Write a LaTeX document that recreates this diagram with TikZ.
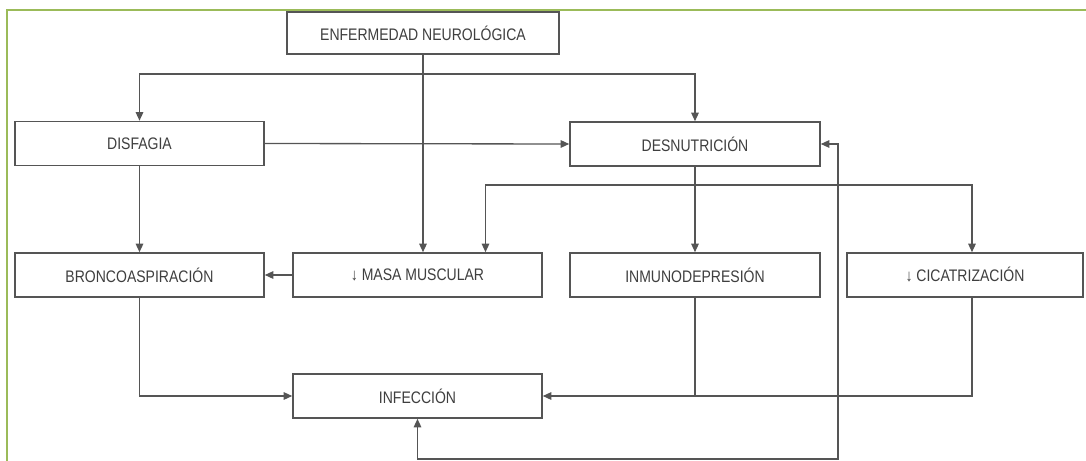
\documentclass[tikz,border=0pt]{standalone}
\usepackage{fontspec}
\setmainfont{Liberation Sans}[FakeStretch=0.84]
\usepackage{xcolor}
\usepackage{tikz}
\usetikzlibrary{arrows.meta,calc}
\definecolor{frame}{HTML}{9BBB59}
\definecolor{linegray}{HTML}{555555}
\definecolor{ink}{HTML}{3F3F3F}
\tikzset{
    every picture/.style={line join=miter},
    causebox/.style={draw=linegray,fill=white,line width=0.9pt,
      minimum width=49.8mm,minimum height=8.8mm,inner sep=1pt,
      text=ink,align=center},
    flowarrow/.style={-{Triangle[length=1.7mm,width=1.5mm]},draw=linegray,
      line width=0.75pt},
    botharrow/.style={{Triangle[length=1.7mm,width=1.5mm]}-{Triangle[length=1.7mm,width=1.5mm]},
      draw=linegray,line width=0.75pt}
}

\begin{document}
\begin{tikzpicture}[font=\fontsize{9.5}{11}\selectfont,x=0.2mm,y=-0.2mm]
  \useasboundingbox (0,0) rectangle (1086,461);
  \draw[frame,line width=0.45mm] (7,461)--(7,10)--(1086,10);

  \node[causebox,minimum width=54.4mm,minimum height=8.4mm] (enf) at (423,33) {ENFERMEDAD NEUROLÓGICA};
  \node[causebox] (disf) at (139.5,143.5) {DISFAGIA};
  \node[causebox,minimum width=50mm] (desn) at (695,144) {DESNUTRICIÓN};
  \node[causebox] (bronco) at (139.5,275) {BRONCOASPIRACIÓN};
  \node[causebox] (masa) at (417.5,275) {↓ MASA MUSCULAR};
  \node[causebox,minimum width=50mm] (inmuno) at (695,275) {INMUNODEPRESIÓN};
  \node[causebox,minimum width=47.2mm] (cicat) at (965,275) {↓ CICATRIZACIÓN};
  \node[causebox] (infec) at (417.5,396) {INFECCIÓN};

  \coordinate (split1) at (423,74);
  \coordinate (split2) at (695,185);
  \coordinate (loopc) at (838,459);

  \draw[flowarrow] (enf.south) -- (enf.south |- masa.north);
  \draw[flowarrow] (split1) -| (disf.north);
  \draw[flowarrow] (split1) -| (desn.north);
  \draw[flowarrow] (disf.east) -- (desn.west);
  \draw[flowarrow] (disf.south) -- (bronco.north);
  \draw[flowarrow] (desn.south) -- (inmuno.north);
  \draw[flowarrow] (split2) -| ($(masa.north)+(68,0)$);
  \draw[flowarrow] (split2) -| ($(cicat.north)+(7,0)$);
  \draw[flowarrow] (masa.west) -- (bronco.east);
  \draw[flowarrow] (bronco.south) |- (infec.west);
  \draw[flowarrow] ($(cicat.south)+(7,0)$) |- (infec.east);
  \draw[draw=linegray,line width=0.75pt] (inmuno.south) -- (inmuno.south |- infec.east);
  \draw[botharrow] (desn.east) -| (loopc) -| (infec.south);
\end{tikzpicture}
\end{document}
